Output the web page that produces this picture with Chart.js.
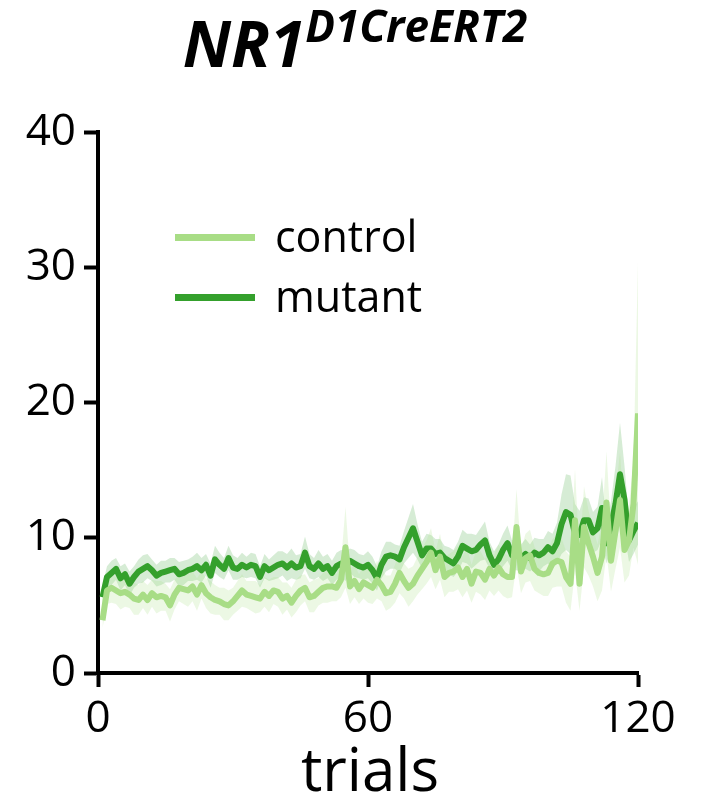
<!DOCTYPE html>
<html>
<head>
<meta charset="utf-8">
<script src="https://cdn.jsdelivr.net/npm/chart.js@4/dist/chart.umd.min.js"></script>
<style>
  html, body { margin: 0; padding: 0; background: #fff; }
  #wrap { position: relative; width: 710px; height: 804px; overflow: hidden; }
  #c { position: absolute; left: 0; top: 0; }
  .txt { position: absolute; font-family: 'Open Sans', sans-serif; color: #000; white-space: nowrap; }
  .leg-line { position: absolute; height: 7px; }
</style>
</head>
<body>
<div id="wrap">
  <canvas id="c" width="710" height="804"></canvas>
  <div class="txt" id="title" style="left:0; top:11px; width:710px; text-align:center; font-weight:bold; font-style:italic; line-height:64px;">
    <span style="font-size:64px;">NR1</span><span style="font-size:44px; position:relative; top:-25px;">D1CreERT2</span>
  </div>
  <div class="leg-line" style="left:175px; top:234px; width:80px; background:rgb(168,221,134);"></div>
  <div class="txt" style="left:275px; top:215px; font-size:43px; line-height:42px;">control</div>
  <div class="leg-line" style="left:175px; top:294px; width:80px; background:rgb(52,160,44);"></div>
  <div class="txt" style="left:275px; top:275px; font-size:43px; line-height:42px;">mutant</div>
  <div class="txt" style="left:0; top:738px; width:710px; padding-left:30px; box-sizing:border-box; text-align:center; font-size:60px; line-height:60px;">trials</div>
</div>
<script>
const trials = [1,2,3,4,5,6,7,8,9,10,11,12,13,14,15,16,17,18,19,20,
21,22,23,24,25,26,27,28,29,30,31,32,33,34,35,36,37,38,39,40,
41,42,43,44,45,46,47,48,49,50,51,52,53,54,55,56,57,58,59,60,
61,62,63,64,65,66,67,68,69,70,71,72,73,74,75,76,77,78,79,80,
81,82,83,84,85,86,87,88,89,90,91,92,93,94,95,96,97,98,99,100,
101,102,103,104,105,106,107,108,109,110,111,112,113,114,115,116,117,118,119,120];

const mutantMean = [5.6,7.1,7.4,7.7,7.0,7.3,6.6,7.1,7.5,7.7,
7.9,7.6,7.2,7.4,7.5,7.6,7.7,7.3,7.4,7.6,
7.7,7.9,7.6,8.0,7.2,8.4,8.0,7.7,8.5,7.8,
7.7,8.0,7.8,8.0,7.9,7.1,7.9,7.6,7.8,8.0,
8.1,7.8,8.1,7.8,7.9,8.9,7.9,7.7,8.1,7.7,
7.9,7.4,7.9,8.1,7.9,8.3,8.1,7.9,7.8,8.0,
7.6,7.0,8.0,8.6,8.7,8.6,8.4,9.3,10.0,10.7,
9.7,8.7,9.2,9.2,8.8,8.9,8.5,8.3,8.1,8.6,
9.4,9.2,9.0,9.1,9.5,9.8,8.7,8.0,8.4,9.1,
9.6,8.7,8.8,8.5,8.8,8.5,8.9,8.7,8.9,9.3,
9.0,9.6,11.0,11.9,11.7,10.3,10.2,11.3,11.3,10.4,
10.7,12.2,9.6,10.9,12.5,14.7,12.8,9.8,10.5,11.1];

const mutantSem = [0.9,0.8,0.9,0.8,0.9,0.8,0.9,0.8,0.9,1.0,
0.9,0.8,0.8,0.9,0.8,0.9,0.8,0.9,0.9,0.8,
0.9,1.0,0.9,0.8,0.9,1.0,0.9,0.8,0.9,0.9,
0.8,0.9,0.8,0.9,0.9,0.8,0.9,0.8,0.9,1.0,
0.9,1.0,1.1,0.9,0.9,1.2,0.9,0.8,1.0,0.9,
0.9,0.9,1.0,1.0,1.1,0.9,1.0,0.9,0.9,1.0,
1.0,0.9,1.0,1.1,1.0,0.9,1.0,1.2,1.5,1.8,
1.3,1.0,1.1,1.0,1.1,1.0,0.9,1.0,1.0,1.1,
1.2,1.1,1.3,1.1,1.2,1.4,1.0,1.0,1.1,1.2,
1.3,1.1,1.2,1.0,1.1,1.0,1.1,1.2,1.0,1.2,
1.3,1.5,2.2,2.8,2.9,2.2,1.8,1.7,1.6,1.5,
1.6,2.3,1.5,1.8,2.8,3.8,2.5,1.6,1.7,1.6];

const controlMean = [3.9,6.1,6.3,6.1,5.9,6.0,5.8,5.5,5.4,5.8,
5.4,5.9,5.6,5.7,5.6,5.0,5.8,6.3,6.2,6.1,
6.4,5.8,6.5,5.9,5.6,5.4,5.3,5.1,5.0,5.3,
5.7,6.1,5.8,5.7,5.6,5.5,6.0,5.7,6.1,6.0,
5.5,5.7,5.2,5.7,6.1,6.3,5.6,5.7,6.0,6.3,
6.4,6.4,6.3,6.9,9.3,6.4,6.8,6.2,6.7,6.5,
6.3,6.9,6.5,5.9,6.0,6.6,7.4,6.8,6.3,6.6,
7.2,7.7,8.2,8.9,7.6,8.6,7.1,7.4,7.5,7.8,
7.1,7.7,6.6,7.5,7.4,6.9,7.7,7.2,7.8,7.3,
7.1,7.1,10.8,7.5,8.5,8.7,7.7,7.4,7.3,7.4,
8.1,8.3,8.2,7.1,6.6,11.3,6.6,10.8,9.6,8.6,
7.4,8.6,12.6,8.3,10.5,12.8,9.1,9.8,12.5,19.2];

const controlSem = [0.6,1.0,1.1,1.0,1.2,1.1,1.0,1.2,1.1,1.0,
1.1,1.0,1.2,1.1,1.0,1.2,1.1,1.0,1.1,1.2,
1.1,1.2,1.0,1.1,1.2,1.1,1.0,1.2,1.1,1.0,
1.1,1.2,1.0,1.1,1.2,1.0,1.1,1.2,1.0,1.1,
1.2,1.0,1.1,1.2,1.1,1.0,1.1,1.2,1.0,1.1,
1.2,1.1,1.0,1.3,3.0,1.3,1.2,1.1,1.2,1.3,
1.2,1.4,1.2,1.3,1.2,1.4,1.5,1.3,1.4,1.3,
1.4,1.5,1.6,1.8,1.4,1.7,1.5,1.4,1.5,1.6,
1.5,1.6,1.4,1.5,1.6,1.5,1.6,1.5,1.7,1.6,
1.6,1.5,2.8,1.6,1.8,1.9,1.6,1.5,1.6,1.7,
1.8,1.9,1.8,1.9,2.0,3.8,2.0,3.0,2.4,2.2,
2.1,2.5,3.8,2.3,2.8,3.5,2.4,2.6,3.2,11.2];

const xTicks = [0, 60, 120];
const yTicks = [0, 10, 20, 30, 40];

const controlColor = 'rgb(168,221,134)';
const mutantColor = 'rgb(52,160,44)';

function pts(vals) { return trials.map((t, i) => ({ x: t, y: vals[i] })); }
function band(mean, sem, sign) { return trials.map((t, i) => ({ x: t, y: mean[i] + sign * sem[i] })); }

const lineBase = { pointRadius: 0, tension: 0, borderJoinStyle: 'round', borderCapStyle: 'butt', fill: false };
const bandBase = { pointRadius: 0, tension: 0, borderWidth: 0, borderColor: 'rgba(0,0,0,0)' };

new Chart(document.getElementById('c'), {
  type: 'line',
  data: {
    datasets: [
      Object.assign({ label: 'control', data: pts(controlMean), borderColor: controlColor, borderWidth: 6 }, lineBase),
      Object.assign({ label: 'mutant', data: pts(mutantMean), borderColor: mutantColor, borderWidth: 6 }, lineBase),
      Object.assign({ label: 'control sem hi', data: band(controlMean, controlSem, 1), backgroundColor: 'rgba(168,221,134,0.22)', fill: '+1' }, bandBase),
      Object.assign({ label: 'control sem lo', data: band(controlMean, controlSem, -1), backgroundColor: 'rgba(0,0,0,0)', fill: false }, bandBase),
      Object.assign({ label: 'mutant sem hi', data: band(mutantMean, mutantSem, 1), backgroundColor: 'rgba(52,160,44,0.2)', fill: '+1' }, bandBase),
      Object.assign({ label: 'mutant sem lo', data: band(mutantMean, mutantSem, -1), backgroundColor: 'rgba(0,0,0,0)', fill: false }, bandBase)
    ]
  },
  options: {
    responsive: false,
    animation: false,
    events: [],
    layout: { padding: { top: 132, right: 72, bottom: 0, left: 0 } },
    plugins: { legend: { display: false }, title: { display: false }, tooltip: { enabled: false } },
    scales: {
      x: {
        type: 'linear', min: 0, max: 120,
        afterFit: s => { s.height = 131; },
        afterBuildTicks: s => { s.ticks = xTicks.map(v => ({ value: v })); },
        grid: { display: true, drawOnChartArea: false, drawTicks: true, tickLength: 14, tickWidth: 4, tickColor: '#000' },
        border: { display: true, width: 4, color: '#000' },
        ticks: { color: '#000', padding: 6, maxRotation: 0, autoSkip: false, font: { family: 'Open Sans', size: 44 } }
      },
      y: {
        type: 'linear', min: 0, max: 40,
        afterFit: s => { s.width = 98; },
        afterBuildTicks: s => { s.ticks = yTicks.map(v => ({ value: v })); },
        grid: { display: true, drawOnChartArea: false, drawTicks: true, tickLength: 14, tickWidth: 4, tickColor: '#000' },
        border: { display: true, width: 4, color: '#000' },
        ticks: { color: '#000', padding: 8, autoSkip: false, font: { family: 'Open Sans', size: 44 } }
      }
    }
  }
});
</script>
</body>
</html>
